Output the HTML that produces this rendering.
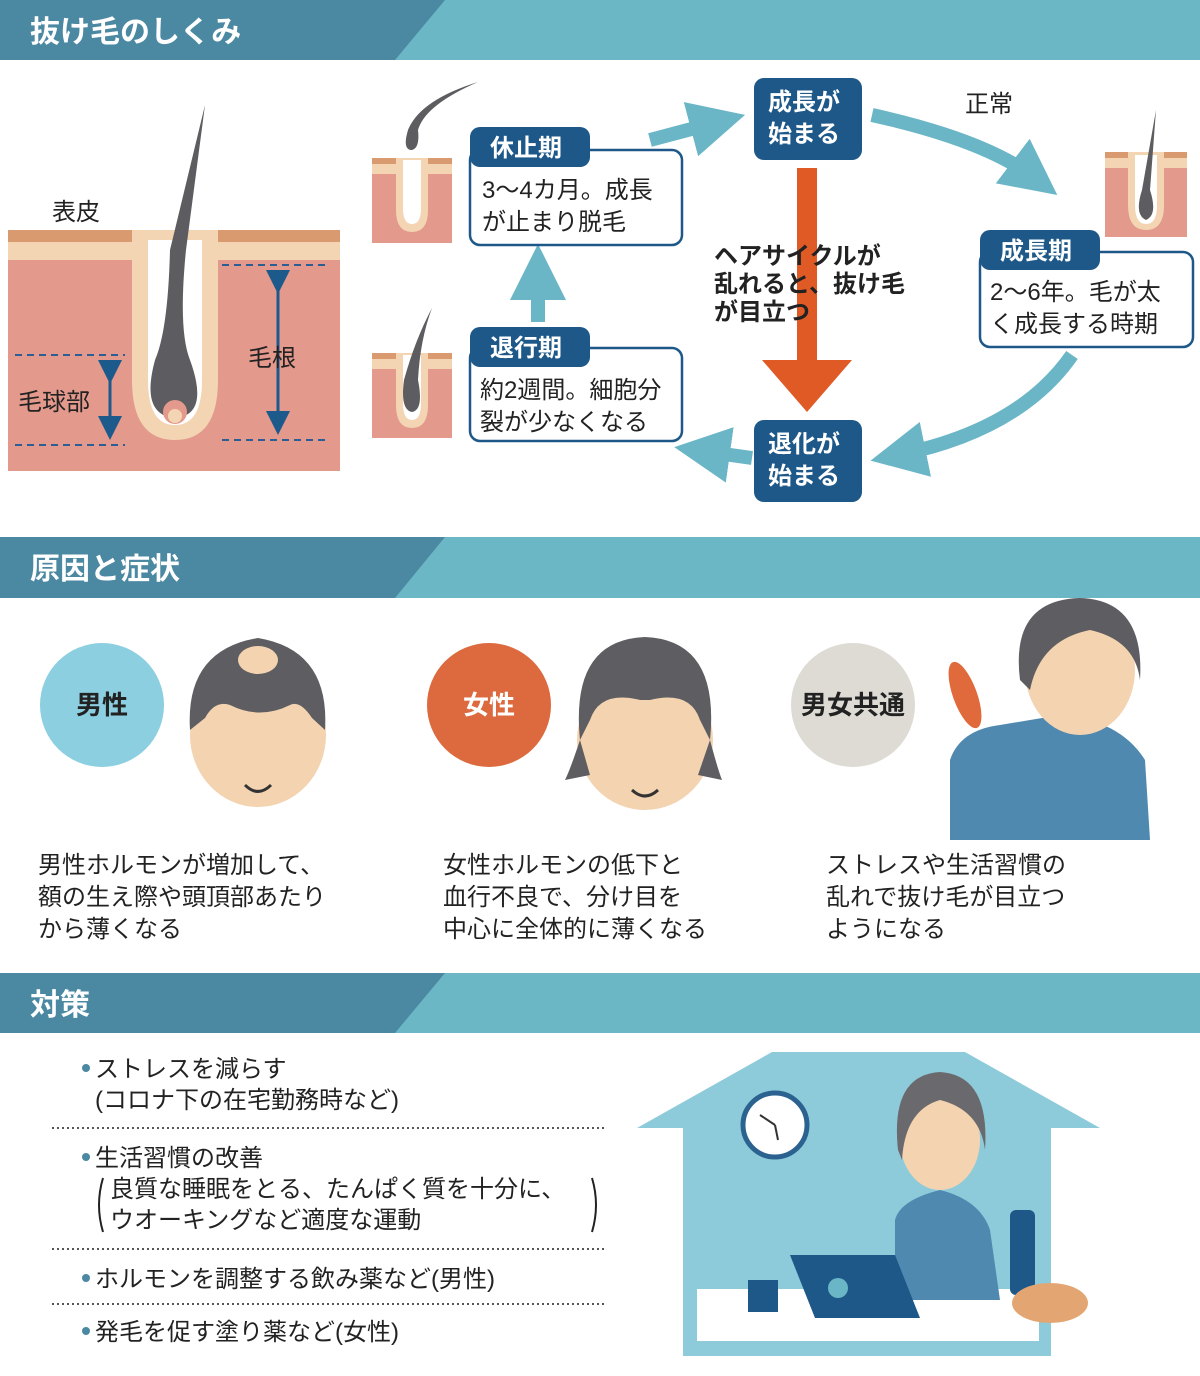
<!DOCTYPE html>
<html><head><meta charset="utf-8">
<style>
body{margin:0;background:#fff;}
svg text{font-family:"Liberation Sans","Noto Sans CJK JP",sans-serif;}
</style></head><body>
<svg width="1200" height="1371" viewBox="0 0 1200 1371" xmlns="http://www.w3.org/2000/svg">
<defs>
<marker id="ta" markerWidth="4" markerHeight="4" refX="2" refY="2" orient="auto" markerUnits="strokeWidth"><path d="M0,0 L4,2 L0,4 z" fill="#6ab6c7"/></marker>
<marker id="ba" markerWidth="8" markerHeight="8" refX="4" refY="4" orient="auto" markerUnits="strokeWidth"><path d="M0,0 L8,4 L0,8 z" fill="#1c5a8c"/></marker>
</defs>
<!-- headers -->
<g>
<rect x="0" y="0" width="1200" height="60" fill="#6bb7c6"/>
<polygon points="0,0 445,0 395,60 0,60" fill="#4b88a2"/>
<text x="30" y="42" font-size="30" font-weight="bold" fill="#fff">抜け毛のしくみ</text>
<rect x="0" y="537" width="1200" height="61" fill="#6bb7c6"/>
<polygon points="0,537 445,537 395,598 0,598" fill="#4b88a2"/>
<text x="30" y="579" font-size="30" font-weight="bold" fill="#fff">原因と症状</text>
<rect x="0" y="973" width="1200" height="60" fill="#6bb7c6"/>
<polygon points="0,973 445,973 395,1033 0,1033" fill="#4b88a2"/>
<text x="30" y="1015" font-size="30" font-weight="bold" fill="#fff">対策</text>
</g>
<!-- big skin -->
<rect x="8" y="230" width="332" height="241" fill="#e3998c"/>
<rect x="8" y="230" width="332" height="12" fill="#d89a6e"/>
<rect x="8" y="242" width="332" height="18" fill="#f3d5b3"/>
<path d="M132,230 L132,380 Q132,440 175,440 Q218,440 218,380 L218,230 Z" fill="#f3d5b3"/>
<path d="M148,240 L148,380 Q148,425 175,425 Q202,425 202,380 L202,240 Z" fill="#fff"/>
<path d="M205,105 L186,250 Q178,330 190,360 Q210,415 175,418 Q140,415 155,360 Q168,330 170,250 Z" fill="#5d5d61"/>
<circle cx="175" cy="412" r="12" fill="#e3998c"/>
<circle cx="175" cy="416" r="7" fill="#f3d5b3"/>
<text x="52" y="220" font-size="24" fill="#222">表皮</text>
<g stroke="#2a5e95" stroke-width="2" stroke-dasharray="7,5"><line x1="15" y1="355" x2="125" y2="355"/><line x1="15" y1="445" x2="125" y2="445"/><line x1="222" y1="265" x2="330" y2="265"/><line x1="222" y1="440" x2="330" y2="440"/></g>
<g stroke="#1c5a8c" stroke-width="3"><line x1="110" y1="372" x2="110" y2="428" marker-start="url(#ba)" marker-end="url(#ba)"/><line x1="278" y1="282" x2="278" y2="423" marker-start="url(#ba)" marker-end="url(#ba)"/></g>
<text x="18" y="410" font-size="24" fill="#222">毛球部</text>
<text x="248" y="366" font-size="24" fill="#222">毛根</text>
<!-- small skins -->
<g>
<rect x="372" y="158" width="80" height="85" fill="#e3998c"/><rect x="372" y="158" width="80" height="6" fill="#d89a6e"/><rect x="372" y="164" width="80" height="10" fill="#f3d5b3"/>
<path d="M396,158 L396,210 Q396,232 412,232 Q428,232 428,210 L428,158Z" fill="#f3d5b3"/><path d="M403,160 L403,208 Q403,224 412,224 Q421,224 421,208 L421,160Z" fill="#fff"/>
<path d="M478,82 Q420,100 408,130 Q402,150 412,150 Q420,148 418,130 Q425,105 478,82Z" fill="#5d5d61"/>
<rect x="372" y="353" width="80" height="85" fill="#e3998c"/><rect x="372" y="353" width="80" height="6" fill="#d89a6e"/><rect x="372" y="359" width="80" height="10" fill="#f3d5b3"/>
<path d="M396,353 L396,405 Q396,428 412,428 Q428,428 428,405 L428,353Z" fill="#f3d5b3"/><path d="M403,355 L403,403 Q403,420 412,420 Q421,420 421,403 L421,355Z" fill="#fff"/>
<path d="M432,308 Q415,340 404,380 Q400,410 412,412 Q424,410 418,380 Q420,340 432,308Z" fill="#5d5d61"/>
<rect x="1105" y="152" width="82" height="85" fill="#e3998c"/><rect x="1105" y="152" width="82" height="6" fill="#d89a6e"/><rect x="1105" y="158" width="82" height="10" fill="#f3d5b3"/>
<path d="M1128,152 L1128,205 Q1128,230 1146,230 Q1164,230 1164,205 L1164,152Z" fill="#f3d5b3"/><path d="M1135,155 L1135,205 Q1135,224 1146,224 Q1157,224 1157,205 L1157,155Z" fill="#fff"/>
<path d="M1156,110 L1150,190 Q1158,215 1146,220 Q1134,215 1142,190 Z" fill="#5d5d61"/>
</g>
<!-- arrows teal -->
<g stroke="#6ab6c7" stroke-width="14" fill="none">
<line x1="650" y1="140" x2="718" y2="122" marker-end="url(#ta)"/>
<path d="M872,115 Q985,140 1035,178" marker-end="url(#ta)"/>
<path d="M1072,355 Q1020,430 898,455" marker-end="url(#ta)"/>
<line x1="752" y1="458" x2="702" y2="451" marker-end="url(#ta)"/>
<line x1="538" y1="322" x2="538" y2="272" marker-end="url(#ta)"/>
</g>
<!-- orange arrow -->
<rect x="797" y="168" width="20" height="195" fill="#e05a26"/>
<polygon points="762,360 852,360 807,412" fill="#e05a26"/>
<text font-size="24" font-weight="bold" fill="#222"><tspan x="714" y="264">ヘアサイクルが</tspan><tspan x="714" y="292">乱れると、抜け毛</tspan><tspan x="714" y="320">が目立つ</tspan></text>
<text x="965" y="112" font-size="24" fill="#222">正常</text>
<!-- boxes -->
<g>
<rect x="754" y="78" width="108" height="82" rx="10" fill="#1d5888"/>
<text font-size="24" font-weight="bold" fill="#fff"><tspan x="768" y="110">成長が</tspan><tspan x="768" y="142">始まる</tspan></text>
<rect x="754" y="420" width="108" height="82" rx="10" fill="#1d5888"/>
<text font-size="24" font-weight="bold" fill="#fff"><tspan x="768" y="452">退化が</tspan><tspan x="768" y="484">始まる</tspan></text>
<rect x="470" y="150" width="212" height="95" rx="10" fill="#fff" stroke="#1d5888" stroke-width="2.5"/>
<rect x="470" y="127" width="120" height="40" rx="10" fill="#1d5888"/>
<text x="490" y="156" font-size="24" font-weight="bold" fill="#fff">休止期</text>
<text font-size="24" fill="#222"><tspan x="482" y="198">3～4カ月。成長</tspan><tspan x="482" y="230">が止まり脱毛</tspan></text>
<rect x="470" y="348" width="212" height="93" rx="10" fill="#fff" stroke="#1d5888" stroke-width="2.5"/>
<rect x="470" y="327" width="120" height="40" rx="10" fill="#1d5888"/>
<text x="490" y="356" font-size="24" font-weight="bold" fill="#fff">退行期</text>
<text font-size="24" fill="#222"><tspan x="480" y="398">約2週間。細胞分</tspan><tspan x="480" y="430">裂が少なくなる</tspan></text>
<rect x="980" y="252" width="213" height="95" rx="10" fill="#fff" stroke="#1d5888" stroke-width="2.5"/>
<rect x="980" y="230" width="120" height="40" rx="10" fill="#1d5888"/>
<text x="1000" y="259" font-size="24" font-weight="bold" fill="#fff">成長期</text>
<text font-size="24" fill="#222"><tspan x="990" y="300">2～6年。毛が太</tspan><tspan x="990" y="332">く成長する時期</tspan></text>
</g>
<!-- section 2 -->
<circle cx="102" cy="705" r="62" fill="#8ccfe0"/><text x="102" y="714" font-size="26" font-weight="bold" text-anchor="middle" fill="#222">男性</text>
<circle cx="489" cy="705" r="62" fill="#dd6a3e"/><text x="489" y="714" font-size="26" font-weight="bold" text-anchor="middle" fill="#fff">女性</text>
<circle cx="853" cy="705" r="62" fill="#dedbd5"/><text x="853" y="714" font-size="26" font-weight="bold" text-anchor="middle" fill="#222">男女共通</text>
<!-- man face -->
<ellipse cx="258" cy="735" rx="68" ry="72" fill="#f3d3b0"/>
<path d="M190,730 Q185,650 258,638 Q330,650 325,730 L312,718 Q300,700 290,705 Q260,720 230,705 Q215,700 205,718Z" fill="#5e5e62"/>
<ellipse cx="258" cy="660" rx="20" ry="14" fill="#f3d3b0"/>
<path d="M245,785 Q258,798 271,785" stroke="#333" stroke-width="3" fill="none"/>
<!-- woman face -->
<ellipse cx="645" cy="740" rx="68" ry="70" fill="#f3d3b0"/>
<path d="M580,740 Q570,640 645,637 Q720,640 710,740 L700,720 Q690,690 650,700 L640,700 Q600,690 590,720Z" fill="#5e5e62"/>
<path d="M580,740 Q570,770 565,780 L590,775Z M710,740 Q718,770 722,780 L698,775Z" fill="#5e5e62"/>
<path d="M632,790 Q645,802 658,790" stroke="#333" stroke-width="3" fill="none"/>
<!-- stressed woman -->
<path d="M950,840 L950,760 Q960,730 1000,725 L1060,715 Q1120,720 1145,760 L1150,840Z" fill="#4f89b0"/>
<ellipse cx="1080" cy="670" rx="55" ry="65" fill="#f3d3b0"/>
<path d="M1020,680 Q1010,600 1080,598 Q1145,600 1140,680 Q1135,640 1090,630 Q1040,640 1030,690Z" fill="#5e5e62"/>
<ellipse cx="965" cy="695" rx="12" ry="35" fill="#e06a3c" transform="rotate(-20 965 695)"/>
<text font-size="24" fill="#222"><tspan x="38" y="873">男性ホルモンが増加して、</tspan><tspan x="38" y="905">額の生え際や頭頂部あたり</tspan><tspan x="38" y="937">から薄くなる</tspan></text>
<text font-size="24" fill="#222"><tspan x="443" y="873">女性ホルモンの低下と</tspan><tspan x="443" y="905">血行不良で、分け目を</tspan><tspan x="443" y="937">中心に全体的に薄くなる</tspan></text>
<text font-size="24" fill="#222"><tspan x="826" y="873">ストレスや生活習慣の</tspan><tspan x="826" y="905">乱れで抜け毛が目立つ</tspan><tspan x="826" y="937">ようになる</tspan></text>
<!-- section 3 -->
<g font-size="24" fill="#222">
<circle cx="86" cy="1068" r="4" fill="#4b88a2"/><text x="95" y="1077">ストレスを減らす</text><text x="95" y="1108">(コロナ下の在宅勤務時など)</text>
<circle cx="86" cy="1157" r="4" fill="#4b88a2"/><text x="95" y="1166">生活習慣の改善</text>
<text x="110" y="1197">良質な睡眠をとる、たんぱく質を十分に、</text><text x="110" y="1228">ウオーキングなど適度な運動</text>
<path d="M103,1178 Q95,1205 103,1232 M592,1178 Q600,1205 592,1232" stroke="#222" stroke-width="2" fill="none"/>
<circle cx="86" cy="1278" r="4" fill="#4b88a2"/><text x="95" y="1287">ホルモンを調整する飲み薬など(男性)</text>
<circle cx="86" cy="1331" r="4" fill="#4b88a2"/><text x="95" y="1340">発毛を促す塗り薬など(女性)</text>
</g>
<g stroke="#555" stroke-width="2" stroke-dasharray="2,3"><line x1="52" y1="1128" x2="606" y2="1128"/><line x1="52" y1="1249" x2="606" y2="1249"/><line x1="52" y1="1304" x2="606" y2="1304"/></g>
<!-- house -->
<polygon points="772,1052 965,1052 1100,1128 1051,1128 1051,1356 683,1356 683,1128 637,1128" fill="#8ecbda"/>
<rect x="697" y="1289" width="342" height="52" fill="#fff"/>
<circle cx="775" cy="1125" r="32" fill="#fff" stroke="#2b628f" stroke-width="5"/>
<path d="M775,1125 L760,1115 M775,1125 L778,1140" stroke="#333" stroke-width="2"/>
<path d="M895,1300 L895,1220 Q900,1200 940,1190 Q980,1200 990,1230 L1000,1300Z" fill="#4f89b0"/>
<rect x="1010" y="1210" width="25" height="85" rx="6" fill="#1d5888"/>
<ellipse cx="940" cy="1140" rx="40" ry="50" fill="#f3d3b0"/>
<path d="M898,1150 Q890,1075 940,1072 Q990,1075 985,1150 Q980,1110 940,1100 Q905,1110 902,1160Z" fill="#6a6a6e"/>
<polygon points="790,1255 895,1255 920,1318 815,1318" fill="#1d5888"/>
<circle cx="838" cy="1288" r="10" fill="#6ab6c7"/>
<rect x="748" y="1280" width="30" height="32" fill="#1d5888"/>
<ellipse cx="1050" cy="1303" rx="38" ry="20" fill="#e3a672"/>
</svg>
</body></html>
